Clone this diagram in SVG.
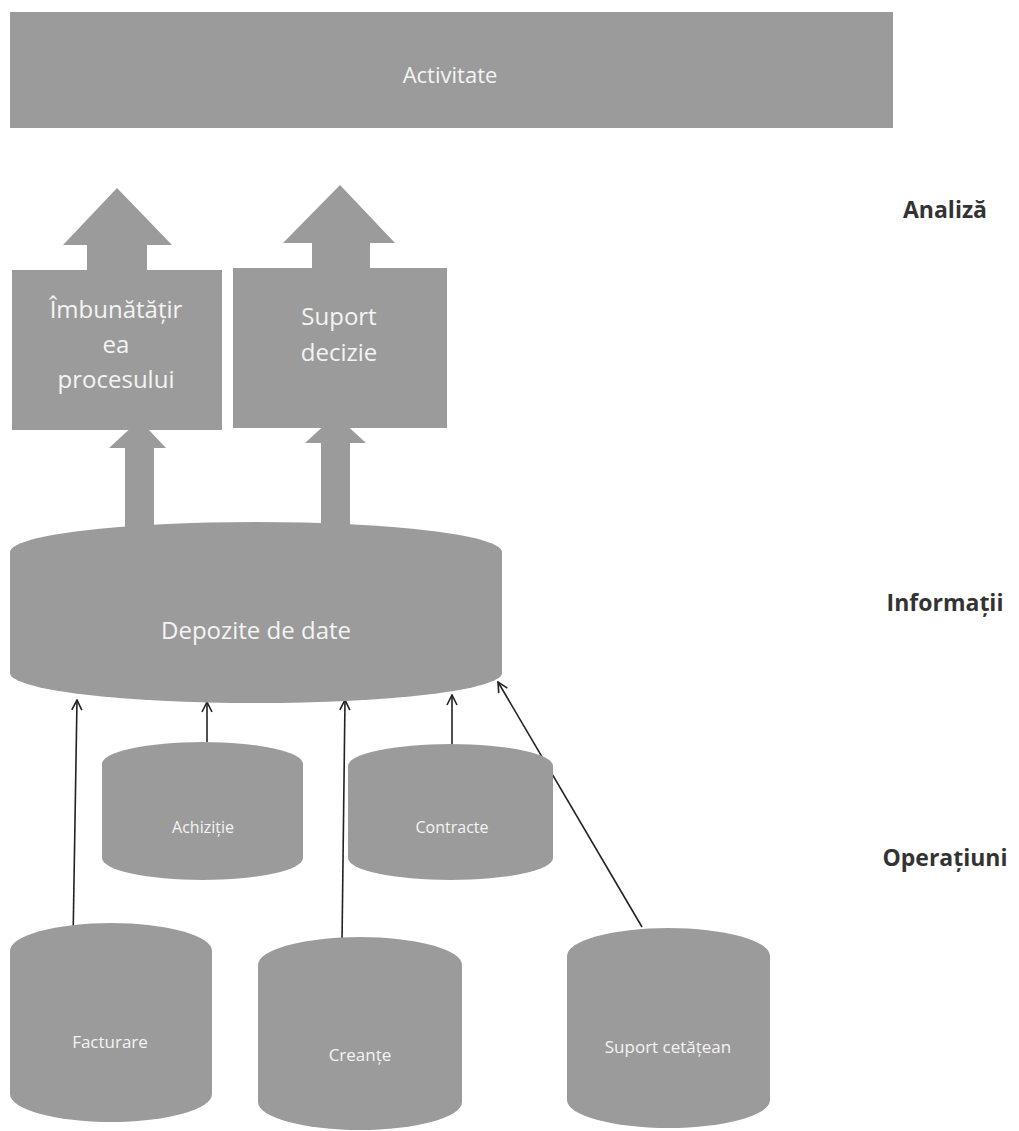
<svg xmlns="http://www.w3.org/2000/svg" width="1019" height="1131" viewBox="0 0 1019 1131">
<style>
.shape{fill:#9b9b9b;}
.lbl{font-family:"Open Sans","Noto Sans","Liberation Sans",sans-serif;fill:#f4f4f4;text-anchor:middle;}
.side{font-family:"Open Sans","DejaVu Sans",sans-serif;font-weight:bold;fill:#333;font-size:23px;text-anchor:middle;}
.conn{stroke:#222;stroke-width:1.6;fill:none;marker-end:url(#open);}
</style>
<defs>
<marker id="open" viewBox="0 0 12 12" refX="11" refY="6" markerWidth="12" markerHeight="12" markerUnits="userSpaceOnUse" orient="auto">
<path d="M1,1 L11,6 L1,11" fill="none" stroke="#222" stroke-width="1.6"/>
</marker>
</defs>
<rect width="1019" height="1131" fill="#ffffff"/>

<g id="activitate">
<rect class="shape" x="10" y="12" width="883" height="116"/>
<text class="lbl" x="450" y="83" font-size="22">Activitate</text>
</g>

<g id="analiza-label"><text class="side" x="945" y="218">Analiză</text></g>
<g id="informatii-label"><text class="side" x="945" y="611">Informații</text></g>
<g id="operatiuni-label"><text class="side" x="945" y="866">Operațiuni</text></g>

<g id="connectors">
<polygon class="shape" points="125,527 125,448 109,448 139.5,420 166,448 154,448 154,527"/>
<polygon class="shape" points="321,527 321,443 305,443 335.5,415 366,443 350,443 350,527"/>
<line class="conn" x1="73" y1="942" x2="77" y2="700"/>
<line class="conn" x1="207" y1="742" x2="207" y2="702"/>
<line class="conn" x1="342" y1="942" x2="345" y2="700"/>
<line class="conn" x1="452" y1="744" x2="452" y2="695"/>
<line class="conn" x1="642" y1="927" x2="498" y2="682"/>
</g>

<g id="imbunatatirea">
<polygon class="shape" points="12,270 87,270 87,245 63,245 117,188 172,245 147,245 147,270 222,270 222,430 12,430"/>
<text class="lbl" x="116" y="318" font-size="24">Îmbunătățir</text>
<text class="lbl" x="116" y="353" font-size="24">ea</text>
<text class="lbl" x="116" y="388" font-size="24">procesului</text>
</g>

<g id="suport-decizie">
<polygon class="shape" points="233,268 312,268 312,243 283,243 340,185 395,243 370,243 370,268 447,268 447,428 233,428"/>
<text class="lbl" x="339" y="325" font-size="24">Suport</text>
<text class="lbl" x="339" y="361" font-size="24">decizie</text>
</g>

<g id="depozite">
<path class="shape" d="M10,552 A246,30 0 0 1 502,552 L502,673 A246,30 0 0 1 10,673 Z"/>
<text class="lbl" x="256" y="639" font-size="24">Depozite de date</text>
</g>

<g id="achizitie">
<path class="shape" d="M102,764 A100.5,22 0 0 1 303,764 L303,858 A100.5,22 0 0 1 102,858 Z"/>
<text class="lbl" x="203" y="833" font-size="16">Achiziție</text>
</g>

<g id="contracte">
<path class="shape" d="M348,766 A102.5,22 0 0 1 553,766 L553,858 A102.5,22 0 0 1 348,858 Z"/>
<text class="lbl" x="452" y="833" font-size="16">Contracte</text>
</g>

<g id="facturare">
<path class="shape" d="M10,951 A101,28 0 0 1 212,951 L212,1094 A101,28 0 0 1 10,1094 Z"/>
<text class="lbl" x="110" y="1048" font-size="17">Facturare</text>
</g>

<g id="creante">
<path class="shape" d="M258,965 A102,28 0 0 1 462,965 L462,1102 A102,28 0 0 1 258,1102 Z"/>
<text class="lbl" x="360" y="1061" font-size="17">Creanțe</text>
</g>

<g id="suport-cetatean">
<path class="shape" d="M567,956 A101.5,28 0 0 1 770,956 L770,1100 A101.5,28 0 0 1 567,1100 Z"/>
<text class="lbl" x="668" y="1053" font-size="17">Suport cetățean</text>
</g>
</svg>
